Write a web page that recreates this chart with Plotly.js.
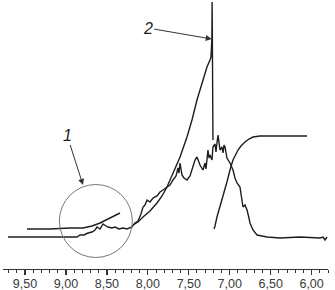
<!DOCTYPE html>
<html>
<head>
<meta charset="utf-8">
<script src="https://cdn.plot.ly/plotly-3.0.1.min.js"></script>
<style>html,body{margin:0;padding:0;background:#fff;}#chart{width:335px;height:290px;}</style>
</head>
<body>
<div id="chart"></div>
<script>
// chemical shift (ppm) and relative intensity
var spectrumPpm = [9.708,9.317,8.865,8.828,8.780,8.731,8.682,8.645,8.621,8.584,8.548,8.511,8.487,8.438,8.401,8.352,8.303,8.255,8.194,8.157,8.120,8.084,8.059,8.035,8.010,7.974,7.937,7.888,7.852,7.815,7.766,7.730,7.693,7.656,7.632,7.620,7.607,7.583,7.559,7.522,7.485,7.449,7.424,7.400,7.375,7.363,7.327,7.302,7.290,7.266,7.253,7.241,7.217,7.205,7.180,7.168,7.156,7.143,7.119,7.095,7.082,7.070,7.058,7.034,6.997,6.973,6.960,6.936,6.911,6.875,6.850,6.838,6.814,6.789,6.765,6.753,6.716,6.667,6.606,6.545,6.386,6.142,5.898,5.861,5.837,5.813];
var spectrumInt = [32,32,32,34,34,36,37,39,42,40,45,43,42,41,42,40,41,40,42,46,48,55,62,64,69,67,71,73,77,79,82,84,89,93,101,96,106,94,91,89,93,102,109,112,107,104,99,106,100,119,111,114,109,122,125,117,126,134,119,122,116,124,122,111,106,101,99,91,86,82,69,62,64,59,51,46,39,34,33,32,31,32,31,32,29,32];
var envelopePpm = [8.181,8.120,8.059,7.974,7.888,7.827,7.766,7.693,7.607,7.522,7.461,7.400,7.339,7.278,7.241,7.229,7.218,7.215,7.210,7.205];
var envelopeInt = [44,47,52,58,66,73,82,96,112,132,149,169,186,202,209,212,230,267,200,129];
var integralPpm = [7.192,7.180,7.156,7.119,7.082,7.034,6.997,6.960,6.899,6.863,6.814,6.765,6.716,6.631,6.545,6.264,6.057];
var integralInt = [40,43,52,62,72,87,99,109,119,123,127,130,132,133,133,133,133];
var integral1Ppm = [9.476,9.195,8.951,8.792,8.682,8.584,8.462,8.340];
var integral1Int = [40,40,41,41,43,46,51,56];
var tickValues = [9.5,9.0,8.5,8.0,7.5,7.0,6.5,6.0];
var tickLabels = ['9,50','9,00','8,50','8,00','7,50','7,00','6,50','6,00'];

var lineStyle = {color:'#1e1e1e', width:1.4};
var traces = [
  {x:spectrumPpm, y:spectrumInt, mode:'lines', line:lineStyle},
  {x:envelopePpm, y:envelopeInt, mode:'lines', line:lineStyle},
  {x:integralPpm, y:integralInt, mode:'lines', line:lineStyle},
  {x:integral1Ppm, y:integral1Int, mode:'lines', line:lineStyle}
];
var layout = {
  width:335, height:290,
  margin:{l:3, r:7, t:0, b:21},
  paper_bgcolor:'#fff', plot_bgcolor:'#fff',
  showlegend:false,
  font:{family:'Liberation Sans, Arial, sans-serif', color:'#333'},
  xaxis:{
    range:[9.769,5.80], showgrid:false, zeroline:false,
    showline:true, linecolor:'#333', linewidth:1.2,
    tickmode:'array', tickvals:tickValues, ticktext:tickLabels,
    ticks:'outside', ticklen:5, tickwidth:1.2, tickcolor:'#333',
    ticklabelstandoff:-2,
    tickfont:{size:12.5, color:'#3a3a3a'},
    minor:{tickmode:'linear', tick0:6, dtick:0.1, ticks:'outside', ticklen:3, tickwidth:1, tickcolor:'#333'}
  },
  yaxis:{range:[0,269], visible:false, showgrid:false, zeroline:false},
  shapes:[{
    type:'circle', xref:'x', yref:'y',
    xsizemode:'pixel', ysizemode:'pixel',
    xanchor:8.635, yanchor:48,
    x0:-36.5, x1:36.5, y0:-36.5, y1:36.5,
    line:{color:'#777', width:1}
  }],
  annotations:[
    {x:8.792, y:84, xref:'x', yref:'y', text:'<i>1</i>', showarrow:true,
     ax:-16, ay:-50, arrowhead:2, arrowsize:1.2, arrowwidth:1, arrowcolor:'#333',
     font:{size:16, color:'#222'}},
    {x:7.220, y:230, xref:'x', yref:'y', text:'<i>2</i>', showarrow:true,
     ax:-64, ay:-11, arrowhead:2, arrowsize:1.2, arrowwidth:1, arrowcolor:'#333',
     font:{size:16, color:'#222'}}
  ]
};
Plotly.newPlot('chart', traces, layout, {staticPlot:true, displayModeBar:false});
</script>
</body>
</html>
